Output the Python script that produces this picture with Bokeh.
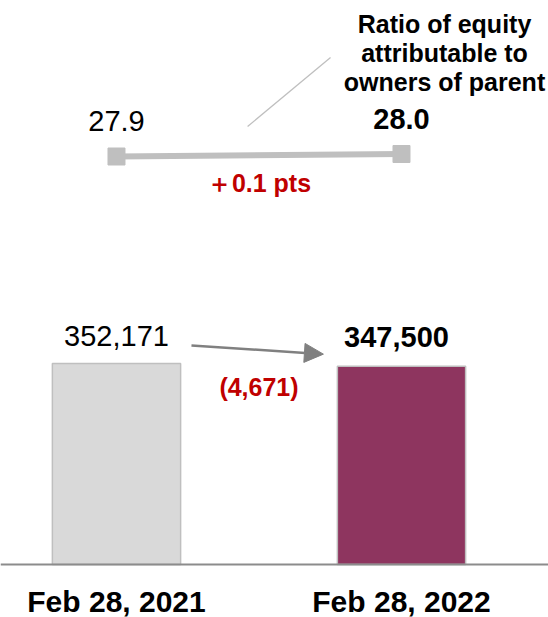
from bokeh.plotting import figure
from bokeh.models import Range1d, LinearAxis, Span, Arrow, NormalHead, ColumnDataSource
from bokeh.core.properties import value
from bokeh.embed import file_html
from bokeh.resources import INLINE

# ---- data ----
categories = ["Feb 28, 2021", "Feb 28, 2022"]
equity = [352171, 347500]
equity_labels = ["352,171", "347,500"]
ratio = [27.9, 28.0]
ratio_labels = ["27.9", "28.0"]
ratio_title = ["Ratio of equity", "attributable to", "owners of parent"]

diff_equity = equity[1] - equity[0]
diff_ratio = ratio[1] - ratio[0]
diff_equity_label = "({:,})".format(abs(diff_equity)) if diff_equity < 0 else "+{:,}".format(diff_equity)
diff_ratio_label = "＋{:.1f} pts".format(diff_ratio)

FONT = value("Liberation Sans")
W, H = 548, 617
xs = [0, 1]

# scales: data units per pixel
PX = 1752.0          # equity per pixel
RPX = 1.0 / 25.0     # ratio per pixel

p = figure(width=W, height=H, output_backend="svg", toolbar_location=None,
           x_range=Range1d(-0.407, 1.5158), y_range=Range1d(-53 * PX, 564 * PX),
           min_border=0, outline_line_color=None)
p.axis.visible = False
p.grid.visible = False
p.extra_y_ranges = {"ratio": Range1d(ratio[0] - 461 * RPX, ratio[0] + 156 * RPX)}

# bars
p.vbar(x=xs, top=equity, width=0.45, bottom=0,
       fill_color=["#d9d9d9", "#8e355f"], line_color="#bfbfbf", line_width=1.5)
p.add_layout(Span(location=0, dimension="width", line_color="#8c8c8c", line_width=2))

# category labels
p.text(x=xs, y=[0, 0], text=categories, text_font=FONT, text_font_style="bold",
       text_font_size="30px", text_align="center", text_baseline="middle",
       y_offset=37, text_color="#000000")

# value labels
p.text(x=[xs[0]], y=[equity[0]], text=[equity_labels[0]], text_font=FONT,
       text_font_size="29px", text_align="center", text_baseline="middle",
       y_offset=-27, text_color="#000000")
p.text(x=[xs[1]], y=[equity[1]], text=[equity_labels[1]], text_font=FONT,
       text_font_style="bold", text_font_size="29px", text_align="center",
       text_baseline="middle", y_offset=-29, x_offset=-5, text_color="#000000")

# change arrow
p.add_layout(Arrow(end=NormalHead(size=19, fill_color="#808080", line_color="#808080"),
                   x_start=xs[0] + 0.263, y_start=equity[0] + 18 * PX,
                   x_end=xs[1] - 0.274, y_end=equity[1] + 12 * PX,
                   line_color="#808080", line_width=2.5))
p.text(x=[0.5], y=[sum(equity) / 2], text=[diff_equity_label], text_font=FONT,
       text_font_style="bold", text_font_size="25px", text_align="center",
       text_baseline="middle", y_offset=22, text_color="#c00000")

# ratio line
p.line(x=xs, y=ratio, y_range_name="ratio", line_color="#bfbfbf", line_width=6)
p.scatter(x=xs, y=ratio, y_range_name="ratio", marker="square", size=17,
          fill_color="#bfbfbf", line_color="#bfbfbf")
p.text(x=[xs[0]], y=[ratio[0]], text=[ratio_labels[0]], y_range_name="ratio",
       text_font=FONT, text_font_size="29px", text_align="center",
       text_baseline="middle", y_offset=-36, text_color="#000000")
p.text(x=[xs[1]], y=[ratio[1]], text=[ratio_labels[1]], y_range_name="ratio",
       text_font=FONT, text_font_style="bold", text_font_size="29px",
       text_align="center", text_baseline="middle", y_offset=-35, text_color="#000000")
p.text(x=[0.5], y=[sum(ratio) / 2], text=[diff_ratio_label], y_range_name="ratio",
       text_font=FONT, text_font_style="bold", text_font_size="25px",
       text_align="center", text_baseline="middle", y_offset=28, text_color="#c00000")

# ratio title with leader line
p.text(x=[xs[1]] * 3, y=[ratio[1]] * 3, text=ratio_title, y_range_name="ratio",
       text_font=FONT, text_font_style="bold", text_font_size="25px",
       text_align="center", text_baseline="middle", x_offset=43,
       y_offset=[-130, -101, -72], text_color="#000000")
p.line(x=[0.46, 0.751], y=[ratio[1] + 27.5 * RPX, ratio[1] + 96.5 * RPX],
       y_range_name="ratio", line_color="#bfbfbf", line_width=1.3)

open("out.html", "w").write(file_html(p, INLINE))
